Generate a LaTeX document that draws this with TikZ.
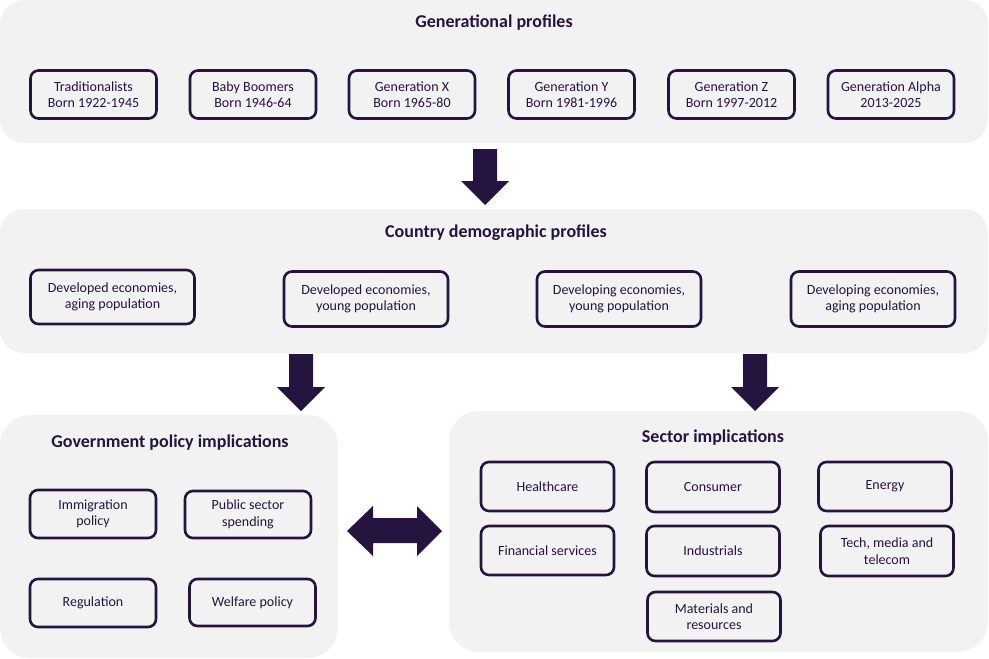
\documentclass[tikz,border=0pt]{standalone}
\usepackage{fontspec}
\setmainfont{Carlito}
\definecolor{navy}{HTML}{24143F}
\definecolor{panelgray}{HTML}{F2F2F2}
\begin{document}
\begin{tikzpicture}[x=1pt,y=-1pt,
  panel/.style={fill=panelgray,draw=none,rounded corners=24pt},
  ptitle/.style={text=navy,font=\fontsize{18}{20}\selectfont\bfseries,inner sep=0pt},
  item/.style={draw=navy,line width=2.6pt,rounded corners=8pt,text=navy,align=center,
    font=\fontsize{14}{16.5}\selectfont,inner sep=0pt},
  blockarrow/.style={fill=navy,draw=none}]
\useasboundingbox (0,0) rectangle (989,659);
% panels
\fill[panel] (0,0) rectangle (988,143);
\fill[panel] (0,209) rectangle (988,353);
\fill[panel,rounded corners=30pt] (0,415) rectangle (338,658);
\fill[panel,rounded corners=30pt] (449,411) rectangle (988,652);
% titles
\node[ptitle] (t1) at (494,23) {Generational profiles};
\node[ptitle] (t2) at (496,233) {Country demographic profiles};
\node[ptitle] (t3) at (170,443) {Government policy implications};
\node[ptitle] (t4) at (713,438) {Sector implications};
% generational boxes
\node[item,minimum width=126pt,minimum height=48pt] (g1) at (93.5,94.5) {Traditionalists\\Born 1922-1945};
\node[item,minimum width=126pt,minimum height=48pt] (g2) at (253,94.5) {Baby Boomers\\Born 1946-64};
\node[item,minimum width=126pt,minimum height=48pt] (g3) at (412,94.5) {Generation X\\Born 1965-80};
\node[item,minimum width=126pt,minimum height=48pt] (g4) at (571.5,94.5) {Generation Y\\Born 1981-1996};
\node[item,minimum width=126pt,minimum height=48pt] (g5) at (731.5,94.5) {Generation Z\\Born 1997-2012};
\node[item,minimum width=126pt,minimum height=48pt] (g6) at (891,94.5) {Generation Alpha\\2013-2025};
% country boxes
\node[item,minimum width=164pt,minimum height=54pt] (c1) at (112.5,297) {Developed economies,\\aging population};
\node[item,minimum width=164pt,minimum height=55pt] (c2) at (366,299) {Developed economies,\\young population};
\node[item,minimum width=164pt,minimum height=55pt] (c3) at (619,299) {Developing economies,\\young population};
\node[item,minimum width=164pt,minimum height=55pt] (c4) at (873,299) {Developing economies,\\aging population};
% government boxes
\node[item,minimum width=126pt,minimum height=48pt] (p1) at (93,514) {Immigration\\policy};
\node[item,minimum width=126pt,minimum height=47pt] (p2) at (248,514.5) {Public sector\\spending};
\node[item,minimum width=126pt,minimum height=48pt] (p3) at (93,603) {Regulation};
\node[item,minimum width=126pt,minimum height=47pt] (p4) at (252.5,602.5) {Welfare policy};
% sector boxes
\node[item,minimum width=133pt,minimum height=49pt] (s1) at (547.5,486.5) {Healthcare};
\node[item,minimum width=133pt,minimum height=50pt] (s2) at (713,487) {Consumer};
\node[item,minimum width=133pt,minimum height=49pt] (s3) at (885,486.5) {Energy};
\node[item,minimum width=133pt,minimum height=49pt] (s4) at (547.5,550.5) {Financial services};
\node[item,minimum width=133pt,minimum height=50pt] (s5) at (713,551) {Industrials};
\node[item,minimum width=133pt,minimum height=50pt] (s6) at (887,551) {Tech, media and\\telecom};
\node[item,minimum width=133pt,minimum height=49pt] (s7) at (714,616.5) {Materials and\\resources};
% block arrows
\fill[blockarrow] (473,149) -- (497,149) -- (497,181) -- (509,181) -- (485,205) -- (461,181) -- (473,181) -- cycle;
\fill[blockarrow] (289,354) -- (313,354) -- (313,387) -- (325,387) -- (301,411) -- (277,387) -- (289,387) -- cycle;
\fill[blockarrow] (743,354) -- (767,354) -- (767,387) -- (779,387) -- (755,411) -- (731,387) -- (743,387) -- cycle;
\fill[blockarrow] (347,531) -- (373,506) -- (373,518) -- (417,518) -- (417,506) -- (442,531) -- (417,556) -- (417,543) -- (373,543) -- (373,556) -- cycle;
\end{tikzpicture}
\end{document}
